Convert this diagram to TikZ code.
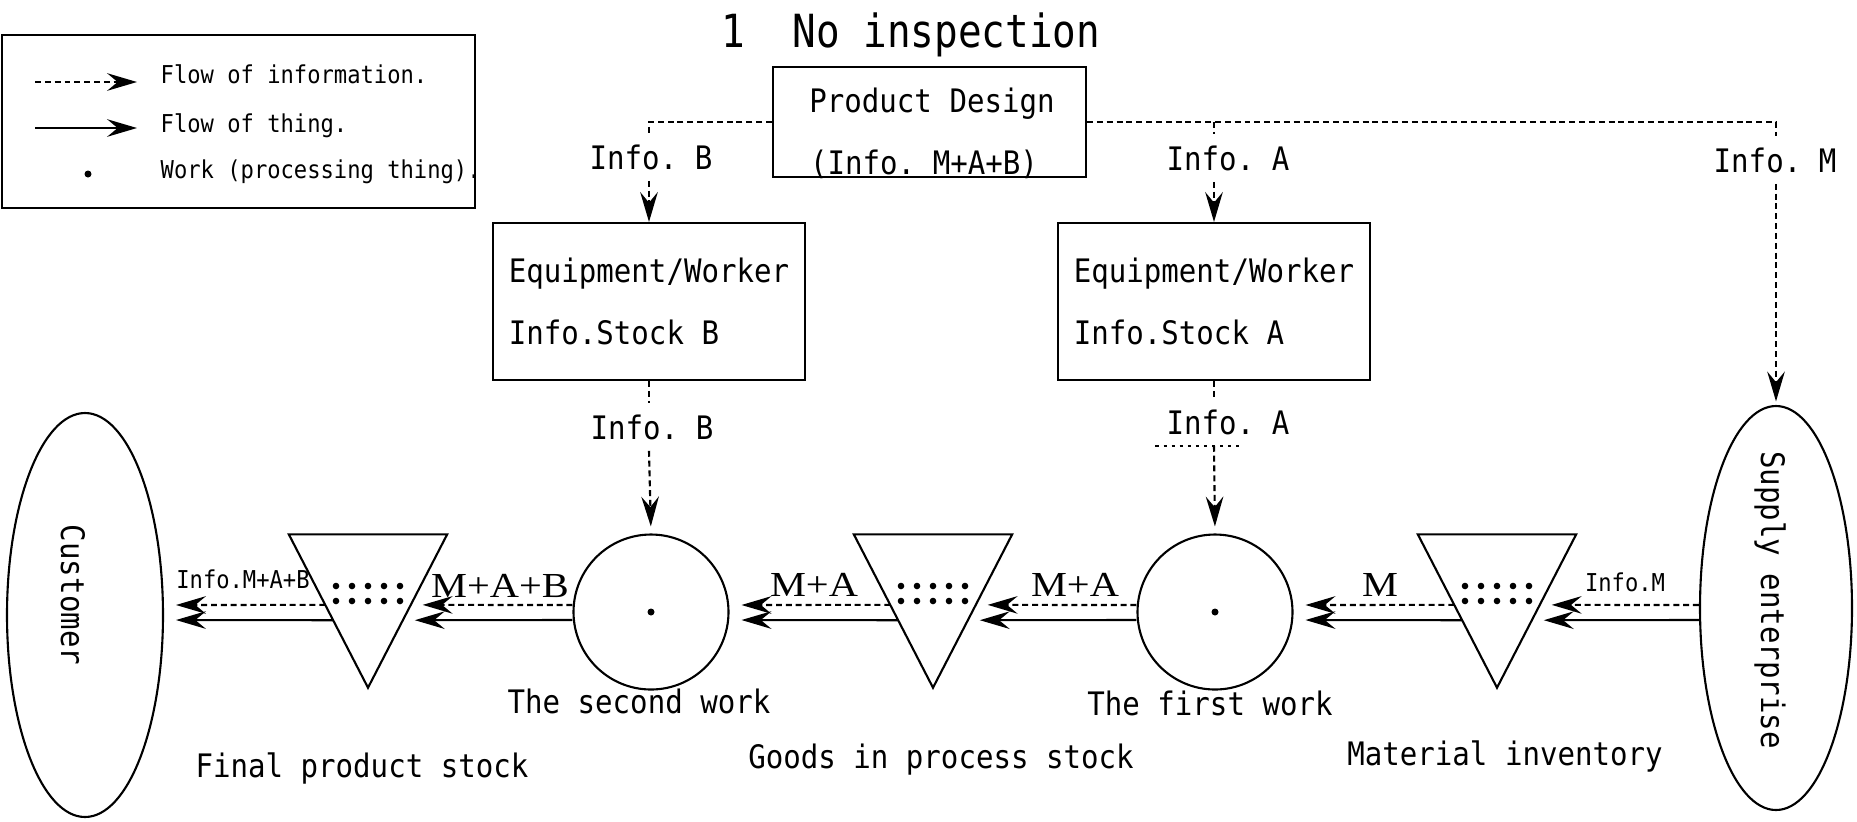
\documentclass[tikz,border=0pt]{standalone}
\usepackage{fontspec}
\usetikzlibrary{shapes.geometric, arrows.meta, calc}
\newfontfamily\gothicfam[FakeStretch=0.9]{DejaVu Sans Mono}
\newfontfamily\gothicwide[FakeStretch=0.86]{DejaVu Sans Mono}
\newfontfamily\serifam[FakeStretch=1.15]{Liberation Serif}
\newcommand{\txtfont}{\gothicfam\fontsize{9.2}{17.4}\selectfont}
\newcommand{\smallfont}{\gothicfam\fontsize{7}{8.4}\selectfont}
\newcommand{\headfont}{\gothicwide\fontsize{13}{15.6}\selectfont}
\newcommand{\flowfont}{\serifam\fontsize{10}{12}\selectfont}
\frenchspacing

\begin{document}
\begin{tikzpicture}[x=0.1mm, y=-0.1mm,
    box/.style={draw, line width=0.6pt, minimum width=31.2mm, minimum height=15.7mm, align=left, font=\txtfont},
    work/.style={draw, circle, line width=0.6pt, minimum size=15.5mm, inner sep=0pt},
    party/.style={draw, ellipse, line width=0.6pt, minimum height=40.4mm, inner sep=0pt},
    stock/.style={minimum width=15.7mm, minimum height=15.2mm, inner sep=0pt},
    lbl/.style={font=\txtfont, inner sep=3pt},
    info/.style={line width=0.6pt, dash pattern=on 1.7pt off 1.1pt},
    thing/.style={line width=0.6pt},
    flowtip/.style={-{Stealth[length=8.5pt, width=5pt, inset=3pt]}},
    tipgap/.style={shorten >=3.4pt}
]
    \useasboundingbox (0,0) rectangle (1857,821);

    % title and legend
    \node[font=\headfont, anchor=base] (title) at (911,47) {1\ \ No inspection};
    \node[draw, line width=0.6pt, minimum width=47.3mm, minimum height=17.3mm] (legend) at (238.5,121.5) {};
    \node[font=\smallfont, anchor=base west, inner sep=0pt] (lginfo) at (160,83) {Flow of information.};
    \node[font=\smallfont, anchor=base west, inner sep=0pt] (lgthing) at (160,132) {Flow of thing.};
    \node[font=\smallfont, anchor=base west, inner sep=0pt] (lgwork) at (160,178) {Work (processing thing).};
    \coordinate (lginfoA) at (35,82);
    \coordinate (lginfoB) at (137,82);
    \coordinate (lgthingA) at (35,128);
    \coordinate (lgthingB) at (137,128);
    \draw[info, flowtip] (lginfoA) -- (lginfoB);
    \draw[thing, flowtip] (lgthingA) -- (lgthingB);
    \fill (88,174) circle (0.35mm);

    % design and equipment
    \node[draw, line width=0.6pt, minimum width=31.3mm, minimum height=11mm] (design) at (929.5,122) {};
    \node[font=\txtfont, anchor=base] (designname) at (932,112) {Product Design};
    \node[font=\txtfont, anchor=base] (designinfo) at (924,174) {(Info. M+A+B)};
    \node[box] (equipB) at (649,301.5) {Equipment/Worker\\Info.Stock B};
    \node[box] (equipA) at (1214,301.5) {Equipment/Worker\\Info.Stock A};

    \node[lbl] (infoB) at (651,157) {Info. B};
    \node[lbl] (infoA) at (1228,158) {Info. A};
    \node[lbl] (infoM) at (1775,160) {Info. M};
    \node[lbl] (infoBlow) at (652,427) {Info. B};
    \node[lbl] (infoAlow) at (1228,422) {Info. A};

    % process line
    \node[party, minimum width=15.6mm] (customer) at (85,615) {};
    \node[party, minimum width=15.2mm] (supplier) at (1776,608) {};
    \node[font=\txtfont, rotate=-90] (customername) at (73,595) {Customer};
    \node[font=\txtfont, rotate=-90] (suppliername) at (1770,600) {Supply enterprise};

    \node[work] (second) at (651,612) {};
    \node[work] (first) at (1215,612) {};
    \fill (second.center) circle (0.35mm);
    \fill (first.center) circle (0.35mm);

    \node[stock] (finalstock) at (368,611) {};
    \node[stock] (goodsstock) at (933,611) {};
    \node[stock] (materialstock) at (1497,611) {};
    \foreach \s in {finalstock, goodsstock, materialstock} {
        \draw[thing] (\s.north west) -- (\s.north east) -- (\s.south) -- cycle;
        \foreach \i in {-2,...,2} {
            \fill ($(\s.center)+(\i*16,-25)$) circle (0.33mm);
            \fill ($(\s.center)+(\i*16,-10)$) circle (0.33mm);
        }
    }

    \node[font=\txtfont, anchor=base] (secondlabel) at (639,713) {The second work};
    \node[font=\txtfont, anchor=base] (firstlabel) at (1210,715) {The first work};
    \node[font=\txtfont, anchor=base] (finallabel) at (362,777) {Final product stock};
    \node[font=\txtfont, anchor=base] (goodslabel) at (941,768) {Goods in process stock};
    \node[font=\txtfont, anchor=base] (materiallabel) at (1505,765) {Material inventory};

    % information from design
    \coordinate (splitB) at (equipB.north |- design.west);
    \coordinate (splitA) at (equipA.north |- design.east);
    \coordinate (splitM) at (supplier.north |- design.east);
    \draw[info] (design.west) -- (splitB) -- (infoB.north -| splitB);
    \draw[info, flowtip] (infoB.south -| splitB) -- (equipB.north);
    \draw[info] (design.east) -- (splitM) -- (infoM.north -| splitM);
    \draw[info] (splitA) -- (infoA.north -| splitA);
    \draw[info, flowtip] (infoA.south -| splitA) -- (equipA.north);
    \draw[info, flowtip, shorten >=1pt] (infoM.south -| splitM) -- (supplier.north);

    \draw[info] (equipB.south) -- (infoBlow.north -| equipB.south);
    \draw[info, flowtip, shorten >=2pt] (infoBlow.south -| equipB.south) -- (second.north);
    \draw[info] (equipA.south) -- (infoAlow.north -| equipA.south);
    \draw[info, flowtip, shorten >=2pt] (infoAlow.south -| equipA.south) -- (first.north);
    \draw[info, dash pattern=on 0.9pt off 1.4pt] (infoAlow.south west) -- ([xshift=4pt]infoAlow.south);

    % flow of information and thing
    \draw[info, flowtip, tipgap] (supplier.west |- 0,605) -- ($(materialstock.north east)!0.46!(materialstock.south)$);
    \draw[thing, flowtip, tipgap] (supplier.west |- 0,620) -- ($(materialstock.north east)!0.56!(materialstock.south)$);
    \draw[info, flowtip, tipgap] ($(materialstock.north west)!0.46!(materialstock.south)$) -- (first.east |- 0,605);
    \draw[thing, flowtip, tipgap] ($(materialstock.north west)!0.56!(materialstock.south)$) -- (first.east |- 0,620);
    \draw[info, flowtip, tipgap] (first.west |- 0,605) -- ($(goodsstock.north east)!0.46!(goodsstock.south)$);
    \draw[thing, flowtip, tipgap] (first.west |- 0,620) -- ($(goodsstock.north east)!0.56!(goodsstock.south)$);
    \draw[info, flowtip, tipgap] ($(goodsstock.north west)!0.46!(goodsstock.south)$) -- (second.east |- 0,605);
    \draw[thing, flowtip, tipgap] ($(goodsstock.north west)!0.56!(goodsstock.south)$) -- (second.east |- 0,620);
    \draw[info, flowtip, tipgap] (second.west |- 0,605) -- ($(finalstock.north east)!0.46!(finalstock.south)$);
    \draw[thing, flowtip, tipgap] (second.west |- 0,620) -- ($(finalstock.north east)!0.56!(finalstock.south)$);
    \draw[info, flowtip, tipgap] ($(finalstock.north west)!0.46!(finalstock.south)$) -- (customer.east |- 0,605);
    \draw[thing, flowtip, tipgap] ($(finalstock.north west)!0.56!(finalstock.south)$) -- (customer.east |- 0,620);

    \node[font=\smallfont, anchor=base] (flowinfoM) at (1625,591) {Info.M};
    \node[font=\flowfont, anchor=base] (flowM) at (1380,596) {M};
    \node[font=\flowfont, anchor=base] (flowMA) at (1075,596) {M+A};
    \node[font=\flowfont, anchor=base] (flowMAgoods) at (814,596) {M+A};
    \node[font=\flowfont, anchor=base] (flowMAB) at (500,597) {M+A+B};
    \node[font=\smallfont, anchor=base] (flowinfoMAB) at (243,588) {Info.M+A+B};
\end{tikzpicture}
\end{document}
